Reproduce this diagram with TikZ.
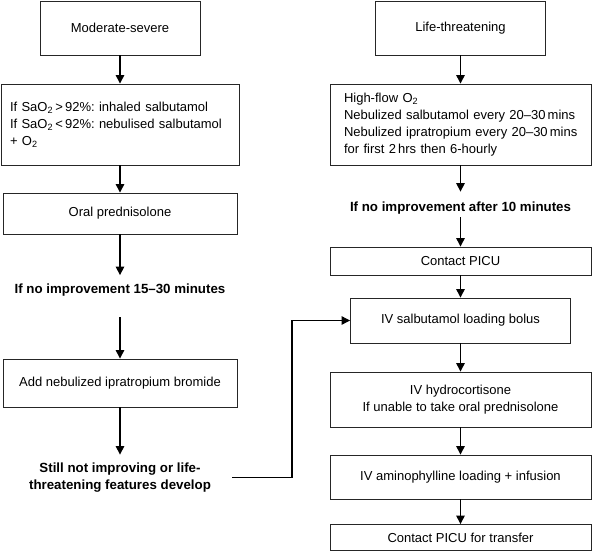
\documentclass[tikz,border=0pt]{standalone}
\usepackage{fontspec}
\setmainfont{Liberation Sans}
\usetikzlibrary{arrows.meta}
\frenchspacing
\begin{document}
\begin{tikzpicture}[x=1pt,y=-1pt,
  every node/.style={font=\fontsize{13}{17}\selectfont},
  box/.style={draw=black!85, line width=0.9pt, inner sep=0pt, align=center},
  lbox/.style={box, align=left},
  note/.style={font=\fontsize{13.3}{17}\selectfont\bfseries, align=center, inner xsep=0pt, inner ysep=3pt},
  arr/.style={line width=1.3pt, -{Triangle[length=8.5pt,width=8.5pt]}},
  link/.style={line width=1.1pt, -{Triangle[length=8.5pt,width=8.5pt]}}
]
\useasboundingbox (0,0) rectangle (592,552);

% left column
\node[box, minimum width=160pt, minimum height=54pt] (ms) at (120,28) {Moderate-severe};
\node[lbox, text width=220pt, inner xsep=9pt, minimum height=81pt] (sao) at (120,124.5)
  {\mbox{If SaO\textsubscript{2}\,>\,92\%: inhaled salbutamol}\\
   \mbox{If SaO\textsubscript{2}\,<\,92\%: nebulised salbutamol}\\
   + O\textsubscript{2}};
\node[box, minimum width=234pt, minimum height=41pt] (op) at (120,213.5) {Oral prednisolone};
\node[note] (t1) at (120,290) {If no improvement 15–30 minutes};
\node[box, minimum width=234pt, minimum height=48pt] (anib) at (120,383) {Add nebulized ipratropium bromide};
\node[note, minimum width=224pt] (t2) at (120,477.5) {Still not improving or life-\\threatening features develop};

% right column
\node[box, minimum width=170pt, minimum height=54pt] (lt) at (460.5,28) {Life-threatening};
\node[lbox, text width=233pt, inner xsep=14pt, minimum height=81pt] (hf) at (460.5,124.5)
  {High-flow O\textsubscript{2}\\
   \mbox{Nebulized salbutamol every 20–30\,mins}\\
   \mbox{Nebulized ipratropium every 20–30\,mins}\\
   for first 2\,hrs then 6-hourly};
\node[note] (t3) at (460.5,208) {If no improvement after 10 minutes};
\node[box, minimum width=261pt, minimum height=28pt] (cp) at (460.5,261) {Contact PICU};
\node[box, minimum width=220pt, minimum height=45pt] (ivs) at (460.5,320.5) {IV salbutamol loading bolus};
\node[box, minimum width=261pt, minimum height=55pt] (ivh) at (460.5,399.5) {IV hydrocortisone\\If unable to take oral prednisolone};
\node[box, minimum width=261pt, minimum height=44pt] (iva) at (460.5,477) {IV aminophylline loading + infusion};
\node[box, minimum width=261pt, minimum height=26pt] (cpt) at (460.5,537.5) {Contact PICU for transfer};

% connectors left
\draw[arr] (ms) -- (sao);
\draw[arr] (sao) -- (op);
\draw[arr, shorten >=5.5pt] (op) -- (t1);
\draw[arr, shorten <=18pt] (t1) -- (anib);
\draw[arr, shorten >=5pt] (anib) -- (t2);
\coordinate (bend) at (292,0);
\draw[link] (t2.east) -- (t2.east -| bend) |- (ivs.west);

% connectors right
\draw[arr] (lt) -- (hf);
\draw[arr, shorten >=7pt] (hf) -- (t3);
\draw[arr] (t3) -- (cp);
\draw[arr] (cp) -- (ivs);
\draw[arr] (ivs) -- (ivh);
\draw[arr] (ivh) -- (iva);
\draw[arr] (iva) -- (cpt);
\end{tikzpicture}
\end{document}
